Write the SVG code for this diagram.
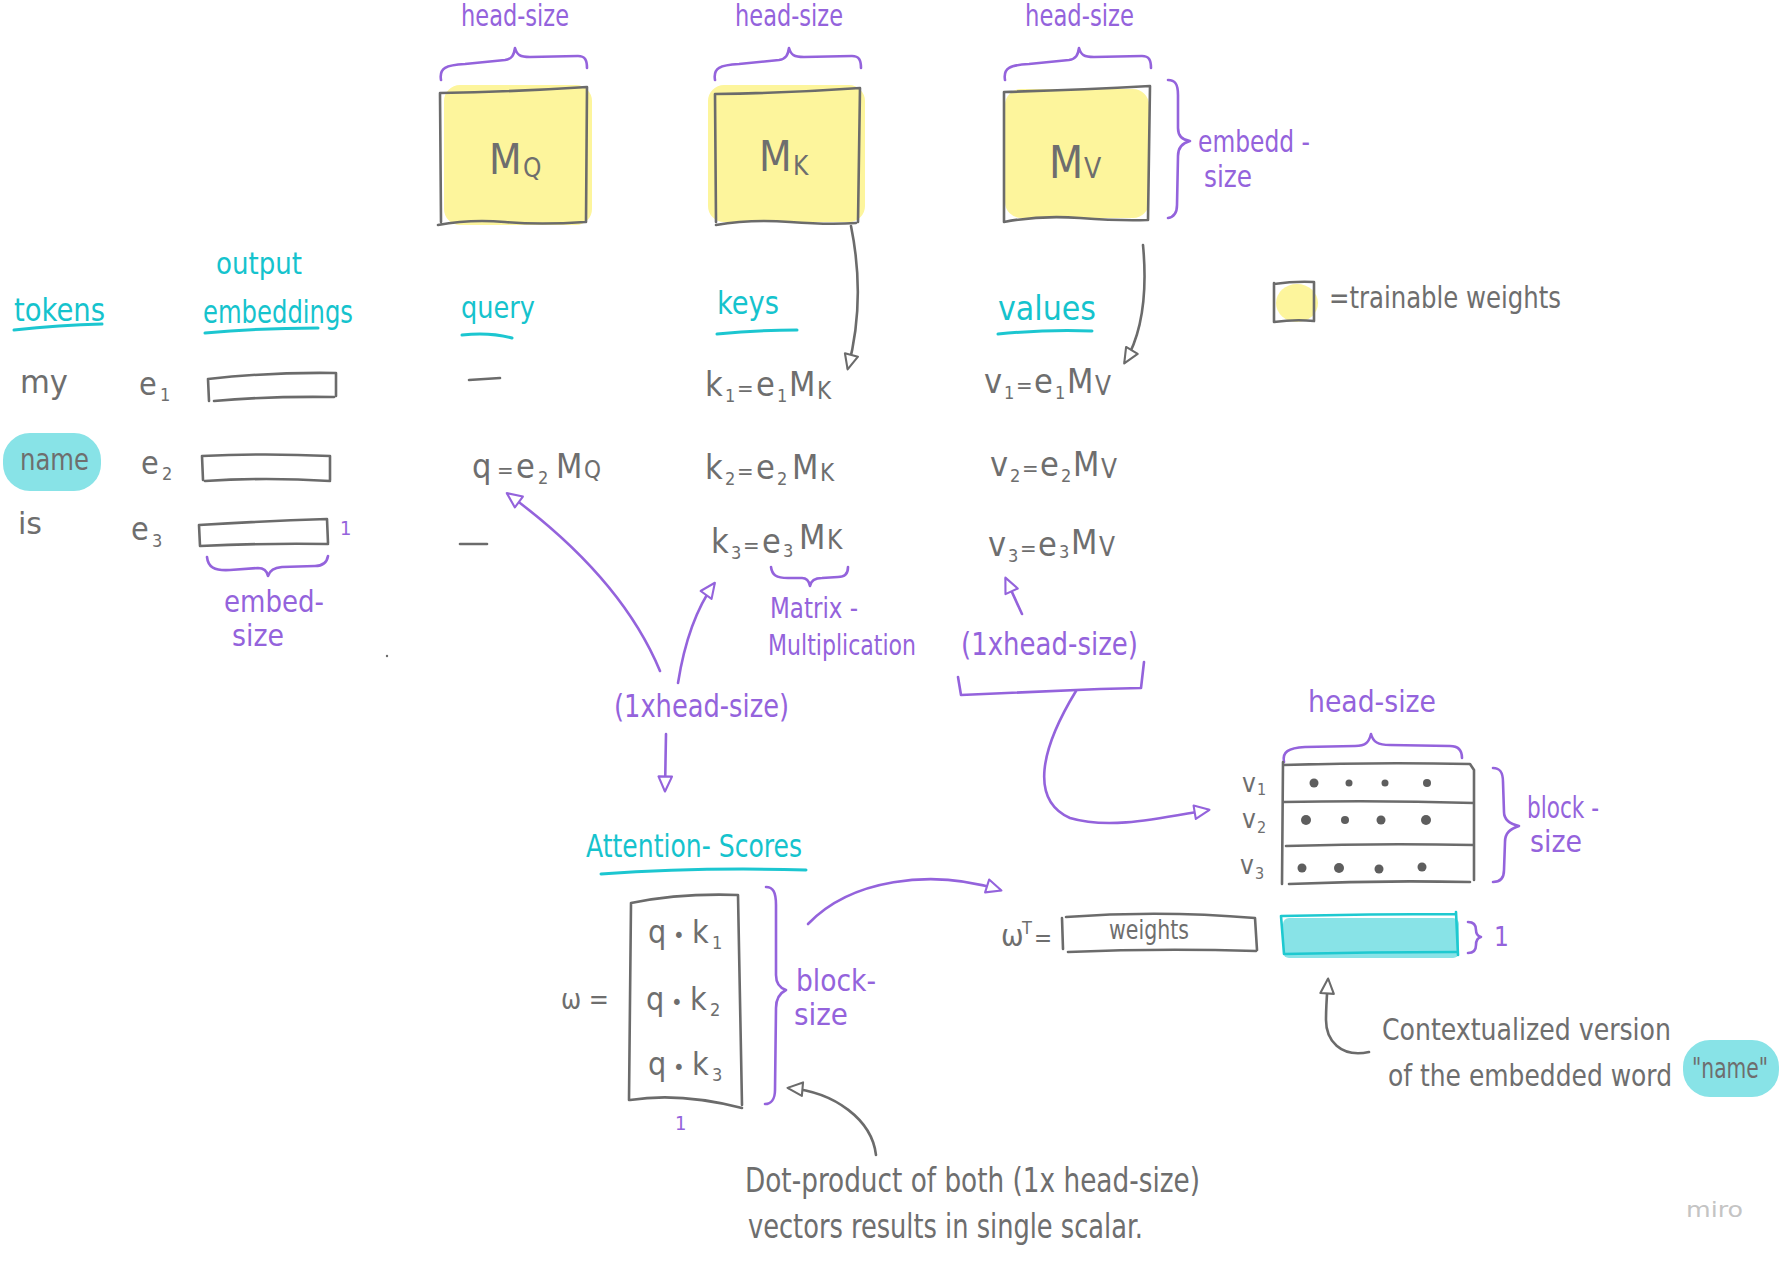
<svg xmlns="http://www.w3.org/2000/svg" width="1784" height="1261" viewBox="0 0 1784 1261">
<style>
.t{font-family:"Liberation Sans Narrow","DejaVu Sans Condensed","Liberation Sans",sans-serif}
.tg{fill:#6e6e6e}
.tp{fill:#9463dc}
.tc{fill:#15c3cd}
.g{fill:none;stroke:#6b6b6b;stroke-width:2.6;stroke-linecap:round;stroke-linejoin:round}
.p{fill:none;stroke:#9463dc;stroke-width:2.6;stroke-linecap:round;stroke-linejoin:round}
.c{fill:none;stroke:#1cc6d0;stroke-width:3;stroke-linecap:round}
.y{fill:#fdf59c;stroke:#fdf59c;stroke-width:16;stroke-linejoin:round}
.cb{fill:#88e3e7;stroke:#88e3e7;stroke-width:18;stroke-linejoin:round}
.dot{fill:#5e5e5e}
.s{font-size:18px}
.eq{font-size:22px}
</style>
<defs>
<marker id="ag" viewBox="0 0 12 12" refX="10" refY="6" markerWidth="18" markerHeight="18" markerUnits="userSpaceOnUse" orient="auto"><path d="M1,1.5 L11,6 L1,10.5 Z" fill="#fff" stroke="#6b6b6b" stroke-width="1.4" stroke-linejoin="round"/></marker>
<marker id="ap" viewBox="0 0 12 12" refX="10" refY="6" markerWidth="18" markerHeight="18" markerUnits="userSpaceOnUse" orient="auto"><path d="M1,1.5 L11,6 L1,10.5 Z" fill="#fff" stroke="#9463dc" stroke-width="1.4" stroke-linejoin="round"/></marker>
</defs>
<rect width="1784" height="1261" fill="#fff"/>

<g id="MQ">
<text class="t tp" x="461" y="26" font-size="30" textLength="108" lengthAdjust="spacingAndGlyphs">head-size</text>
<path class="p" d="M441,80 C439,68 446,65 465,64 L505,60 C512,59 514,55 515,48 C517,55 520,57 530,57 L578,56 C585,56 587,60 587,68"/>
<rect class="y" x="452" y="93" width="132" height="124" rx="8"/>
<path class="g" d="M440,93 L441,222 M440,93 Q510,92 587,87 L586,222 M438,225 Q470,219 505,222 T585,222"/>
<text class="t tg" y="174"><tspan x="489" font-size="42">M</tspan><tspan x="523" font-size="26" dy="3">Q</tspan></text>
</g>

<g id="MK">
<text class="t tp" x="735" y="26" font-size="30" textLength="108" lengthAdjust="spacingAndGlyphs">head-size</text>
<path class="p" d="M715,80 C713,68 720,65 739,64 L779,60 C786,59 788,55 789,48 C791,55 794,57 804,57 L852,56 C859,56 861,60 861,68"/>
<rect class="y" x="716" y="93" width="141" height="121" rx="8"/>
<path class="g" d="M715,94 L716,222 M715,94 Q790,93 860,88 L858,222 M716,225 Q750,219 790,222 T856,223"/>
<text class="t tg" y="171"><tspan x="759" font-size="42">M</tspan><tspan x="793" font-size="26" dy="4">K</tspan></text>
</g>

<g id="MV">
<text class="t tp" x="1025" y="26" font-size="30" textLength="109" lengthAdjust="spacingAndGlyphs">head-size</text>
<path class="p" d="M1005,80 C1003,68 1010,65 1029,64 L1069,60 C1076,59 1078,55 1079,48 C1081,55 1084,57 1094,57 L1142,56 C1149,56 1151,60 1151,68"/>
<rect class="y" x="1013" y="97" width="128" height="113" rx="8"/>
<path class="g" d="M1004,92 L1004,222 M1004,92 Q1080,90 1150,86 L1148,220 M1004,222 Q1040,215 1080,218 T1147,220"/>
<text class="t tg" y="178"><tspan x="1049" font-size="44">M</tspan><tspan x="1084" font-size="28">V</tspan></text>
<path class="p" d="M1168,80 C1175,80 1178,84 1178,95 L1178,128 C1178,136 1182,140 1190,141 C1182,143 1178,148 1178,156 L1177,205 C1177,213 1174,217 1168,218"/>
<text class="t tp" x="1198" y="152" font-size="30" textLength="112" lengthAdjust="spacingAndGlyphs">embedd -</text>
<text class="t tp" x="1204" y="187" font-size="30" textLength="48" lengthAdjust="spacingAndGlyphs">size</text>
</g>

<g id="legend">
<ellipse cx="1297" cy="303" rx="21" ry="19" fill="#fdf59c"/>
<path class="g" d="M1274,283 L1274,322 M1274,284 Q1295,281 1314,282 L1314,321 M1274,322 Q1295,319 1314,321"/>
<text class="t tg" x="1329" y="308" font-size="30" textLength="232" lengthAdjust="spacingAndGlyphs">=trainable weights</text>
</g>

<g id="headers">
<text class="t tc" x="14" y="321" font-size="32" textLength="91" lengthAdjust="spacingAndGlyphs">tokens</text>
<path class="c" d="M14,330 Q60,325 102,324"/>
<text class="t tc" x="216" y="274" font-size="30" textLength="86" lengthAdjust="spacingAndGlyphs">output</text>
<text class="t tc" x="203" y="323" font-size="32" textLength="150" lengthAdjust="spacingAndGlyphs">embeddings</text>
<path class="c" d="M205,333 Q260,328 318,328"/>
<text class="t tc" x="461" y="318" font-size="30" textLength="74" lengthAdjust="spacingAndGlyphs">query</text>
<path class="c" d="M462,335 Q490,332 512,338"/>
<text class="t tc" x="717" y="314" font-size="32" textLength="62" lengthAdjust="spacingAndGlyphs">keys</text>
<path class="c" d="M717,334 Q760,330 797,330"/>
<text class="t tc" x="998" y="320" font-size="34" textLength="98" lengthAdjust="spacingAndGlyphs">values</text>
<path class="c" d="M998,334 Q1050,329 1092,331"/>
</g>

<g id="row-my">
<text class="t tg" x="20" y="393" font-size="32" textLength="48" lengthAdjust="spacingAndGlyphs">my</text>
<text class="t tg" y="395" font-size="32"><tspan x="139">e</tspan><tspan x="160" class="s" dy="6">1</tspan></text>
<path class="g" d="M208,379 L209,401 M208,379 Q270,372 336,373 L336,396 M214,401 Q270,396 334,397"/>
<path class="g" d="M469,380 L500,378"/>
</g>

<g id="row-name">
<rect class="cb" x="12" y="442" width="80" height="40" rx="18"/>
<text class="t tg" x="20" y="470" font-size="30" textLength="69" lengthAdjust="spacingAndGlyphs">name</text>
<text class="t tg" y="474" font-size="32"><tspan x="141">e</tspan><tspan x="162" class="s" dy="6">2</tspan></text>
<path class="g" d="M202,456 L203,480 M202,456 Q265,453 330,456 L330,480 M205,481 Q265,477 330,481"/>
</g>

<g id="row-is">
<text class="t tg" x="18" y="534" font-size="30" textLength="24" lengthAdjust="spacingAndGlyphs">is</text>
<text class="t tg" y="540" font-size="32"><tspan x="131">e</tspan><tspan x="152" class="s" dy="7">3</tspan></text>
<path class="g" d="M199,525 L200,546 M199,525 Q265,521 327,519 L328,543 M200,546 Q265,543 328,544"/>
<text class="t tp" x="340" y="535" font-size="20">1</text>
<path class="p" d="M207,557 C208,567 214,571 230,570 L258,568 C264,568 267,571 268,576 C270,570 274,568 282,567 L315,566 C324,566 327,562 328,556"/>
<text class="t tp" x="224" y="612" font-size="30" textLength="100" lengthAdjust="spacingAndGlyphs">embed-</text>
<text class="t tp" x="232" y="646" font-size="30" textLength="52" lengthAdjust="spacingAndGlyphs">size</text>
<path class="g" d="M460,544 L487,544"/>
<circle cx="387" cy="656" r="1.2" fill="#6b6b6b"/>
</g>

<g id="query">
<text class="t tg" y="478" font-size="34"><tspan x="472">q</tspan><tspan x="497" class="eq">=</tspan><tspan x="516">e</tspan><tspan x="538" class="s" dy="6">2</tspan><tspan x="556" dy="-6">M</tspan><tspan x="584" font-size="24">Q</tspan></text>
</g>

<g id="keys">
<text class="t tg" y="396" font-size="34"><tspan x="705">k</tspan><tspan x="725" class="s" dy="6">1</tspan><tspan x="737" class="eq" dy="-6">=</tspan><tspan x="756">e</tspan><tspan x="777" class="s" dy="6">1</tspan><tspan x="789" dy="-6">M</tspan><tspan x="817" font-size="24" dy="3">K</tspan></text>
<text class="t tg" y="479" font-size="34"><tspan x="705">k</tspan><tspan x="725" class="s" dy="6">2</tspan><tspan x="737" class="eq" dy="-6">=</tspan><tspan x="756">e</tspan><tspan x="777" class="s" dy="6">2</tspan><tspan x="792" dy="-6">M</tspan><tspan x="820" font-size="24" dy="2">K</tspan></text>
<text class="t tg" y="553" font-size="34"><tspan x="711">k</tspan><tspan x="731" class="s" dy="6">3</tspan><tspan x="743" class="eq" dy="-6">=</tspan><tspan x="762">e</tspan><tspan x="783" class="s" dy="4">3</tspan><tspan x="799" dy="-8">M</tspan><tspan x="827" font-size="26">K</tspan></text>
<path class="p" d="M771,567 C772,575 776,578 788,578 L802,578 C806,578 809,581 810,586 C811,580 815,578 822,578 L838,577 C845,577 848,573 848,567"/>
<text class="t tp" x="770" y="618" font-size="28" textLength="88" lengthAdjust="spacingAndGlyphs">Matrix -</text>
<text class="t tp" x="768" y="655" font-size="28" textLength="148" lengthAdjust="spacingAndGlyphs">Multiplication</text>
</g>

<g id="values">
<text class="t tg" y="393" font-size="34"><tspan x="984">v</tspan><tspan x="1004" class="s" dy="6">1</tspan><tspan x="1016" class="eq" dy="-6">=</tspan><tspan x="1034">e</tspan><tspan x="1055" class="s" dy="6">1</tspan><tspan x="1067" dy="-6">M</tspan><tspan x="1095" font-size="26" dy="2">V</tspan></text>
<text class="t tg" y="476" font-size="34"><tspan x="990">v</tspan><tspan x="1010" class="s" dy="6">2</tspan><tspan x="1022" class="eq" dy="-6">=</tspan><tspan x="1040">e</tspan><tspan x="1061" class="s" dy="6">2</tspan><tspan x="1073" dy="-6">M</tspan><tspan x="1101" font-size="26" dy="2">V</tspan></text>
<text class="t tg" y="556" font-size="34"><tspan x="988">v</tspan><tspan x="1008" class="s" dy="6">3</tspan><tspan x="1020" class="eq" dy="-6">=</tspan><tspan x="1038">e</tspan><tspan x="1059" class="s" dy="2">3</tspan><tspan x="1071" dy="-4">M</tspan><tspan x="1099" font-size="26" dy="2">V</tspan></text>
</g>

<g id="shape-q">
<text class="t tp" x="614" y="717" font-size="32" textLength="175" lengthAdjust="spacingAndGlyphs">(1xhead-size)</text>
</g>

<g id="shape-v">
<text class="t tp" x="961" y="655" font-size="32" textLength="177" lengthAdjust="spacingAndGlyphs">(1xhead-size)</text>
<path class="p" d="M958,677 L961,695 L1100,689 L1141,688 L1144,662"/>
</g>

<g id="value-matrix">
<text class="t tp" x="1308" y="712" font-size="30" textLength="128" lengthAdjust="spacingAndGlyphs">head-size</text>
<path class="p" d="M1284,762 C1282,752 1288,748 1305,747 L1355,746 C1366,746 1369,742 1371,734 C1373,742 1378,745 1390,745 L1450,746 C1458,746 1462,750 1462,758"/>
<path class="g" d="M1283,762 L1282,884 M1283,765 Q1380,762 1470,764 L1474,770 L1474,880 M1283,802 Q1380,800 1474,803 M1286,846 Q1380,843 1474,845 M1289,884 Q1380,880 1470,882"/>
<text class="t tg" y="792" font-size="26"><tspan x="1242">v</tspan><tspan x="1257" font-size="16" dy="3">1</tspan></text>
<text class="t tg" y="828" font-size="26"><tspan x="1242">v</tspan><tspan x="1257" font-size="16" dy="5">2</tspan></text>
<text class="t tg" y="874" font-size="26"><tspan x="1240">v</tspan><tspan x="1255" font-size="16" dy="5">3</tspan></text>
<circle class="dot" cx="1314" cy="783" r="4.5"/><circle class="dot" cx="1349" cy="783" r="3.5"/><circle class="dot" cx="1385" cy="783" r="3.5"/><circle class="dot" cx="1427" cy="783" r="4"/>
<circle class="dot" cx="1306" cy="820" r="5"/><circle class="dot" cx="1345" cy="820" r="4"/><circle class="dot" cx="1381" cy="820" r="4.5"/><circle class="dot" cx="1426" cy="820" r="5"/>
<circle class="dot" cx="1302" cy="868" r="4.5"/><circle class="dot" cx="1339" cy="868" r="5"/><circle class="dot" cx="1379" cy="869" r="4.5"/><circle class="dot" cx="1422" cy="867" r="4.5"/>
<path class="p" d="M1493,768 C1500,768 1503,772 1503,782 L1504,812 C1504,820 1510,824 1519,826 C1510,829 1505,833 1505,842 L1504,870 C1504,878 1500,882 1493,882"/>
<text class="t tp" x="1527" y="818" font-size="30" textLength="72" lengthAdjust="spacingAndGlyphs">block -</text>
<text class="t tp" x="1530" y="852" font-size="30" textLength="52" lengthAdjust="spacingAndGlyphs">size</text>
</g>

<g id="weights">
<text class="t tg" y="946" font-size="30"><tspan x="1001">ω</tspan><tspan x="1022" font-size="18" dy="-12">T</tspan><tspan x="1034" font-size="24" dy="12">=</tspan></text>
<path class="g" d="M1062,918 L1063,949 M1066,917 Q1160,910 1255,918 L1257,950 M1068,952 Q1160,948 1256,951"/>
<text class="t tg" x="1109" y="939" font-size="26" textLength="80" lengthAdjust="spacingAndGlyphs">weights</text>
</g>

<g id="output">
<rect x="1283" y="918" width="176" height="40" rx="6" fill="#88e3e7"/>
<path d="M1281,916 Q1370,914 1456,914 M1281,916 L1284,954 M1284,954 Q1370,952 1456,952 M1456,912 L1458,955" fill="none" stroke="#1ec9d0" stroke-width="2.6" stroke-linecap="round"/>
<path class="p" d="M1468,922 C1474,922 1476,925 1476,930 C1476,934 1477,936 1481,937 C1477,938 1476,941 1476,945 C1476,950 1474,953 1468,953"/>
<text class="t tp" x="1494" y="946" font-size="26">1</text>
</g>

<g id="context-note">
<text class="t tg" x="1382" y="1040" font-size="30" textLength="289" lengthAdjust="spacingAndGlyphs">Contextualized version</text>
<rect class="cb" x="1692" y="1049" width="78" height="39" rx="18"/>
<text class="t tg" x="1388" y="1086" font-size="30" textLength="284" lengthAdjust="spacingAndGlyphs">of the embedded word</text>
<text class="t tg" x="1692" y="1078" font-size="28" textLength="76" lengthAdjust="spacingAndGlyphs">"name"</text>
</g>

<g id="attention-scores">
<text class="t tc" x="586" y="857" font-size="32" textLength="216" lengthAdjust="spacingAndGlyphs">Attention- Scores</text>
<path class="c" d="M601,874 Q700,867 806,870"/>
<text class="t tg" x="561" y="1009" font-size="28" textLength="48" lengthAdjust="spacingAndGlyphs">ω =</text>
<path class="g" d="M631,903 L629,1100 M631,903 Q680,893 738,895 L742,1105 M630,1100 Q680,1092 742,1108"/>
<text class="t tg" y="943" font-size="32"><tspan x="648">q</tspan><tspan x="673" font-size="22">•</tspan><tspan x="692">k</tspan><tspan x="712" class="s" dy="6">1</tspan></text>
<text class="t tg" y="1010" font-size="32"><tspan x="646">q</tspan><tspan x="671" font-size="22">•</tspan><tspan x="690">k</tspan><tspan x="710" class="s" dy="6">2</tspan></text>
<text class="t tg" y="1075" font-size="32"><tspan x="648">q</tspan><tspan x="673" font-size="22">•</tspan><tspan x="692">k</tspan><tspan x="712" class="s" dy="6">3</tspan></text>
<path class="p" d="M766,887 C773,887 776,892 776,905 L776,975 C776,983 780,988 786,990 C780,993 776,998 776,1008 L775,1090 C775,1099 771,1104 765,1104"/>
<text class="t tp" x="796" y="991" font-size="30" textLength="80" lengthAdjust="spacingAndGlyphs">block-</text>
<text class="t tp" x="794" y="1025" font-size="30" textLength="54" lengthAdjust="spacingAndGlyphs">size</text>
<text class="t tp" x="675" y="1130" font-size="20">1</text>
</g>

<g id="dot-product-note">
<text class="t tg" x="745" y="1192" font-size="34" textLength="455" lengthAdjust="spacingAndGlyphs">Dot-product of both (1x head-size)</text>
<text class="t tg" x="748" y="1238" font-size="34" textLength="395" lengthAdjust="spacingAndGlyphs">vectors results in single scalar.</text>
</g>

<g id="connectors">
<path class="g" d="M851,226 Q866,300 848,368" marker-end="url(#ag)"/>
<path class="g" d="M1143,245 Q1150,320 1125,362" marker-end="url(#ag)"/>
<path class="p" d="M660,671 Q621,577 508,494" marker-end="url(#ap)"/>
<path class="p" d="M678,683 Q688,620 714,584" marker-end="url(#ap)"/>
<path class="p" d="M666,734 L665,790" marker-end="url(#ap)"/>
<path class="p" d="M1022,614 L1006,579" marker-end="url(#ap)"/>
<path class="p" d="M1076,691 C1040,750 1030,800 1070,818 C1110,830 1160,818 1208,810" marker-end="url(#ap)"/>
<path class="p" d="M808,924 C850,880 930,868 1000,890" marker-end="url(#ap)"/>
<path class="g" d="M876,1155 C872,1120 835,1092 789,1088" marker-end="url(#ag)"/>
<path class="g" d="M1369,1052 C1340,1058 1326,1040 1326,1020 C1326,1005 1327,995 1328,980" marker-end="url(#ag)"/>
</g>

<text class="t" x="1686" y="1217" font-size="22" fill="#c4c4c4" textLength="57" lengthAdjust="spacingAndGlyphs">miro</text>
</svg>
